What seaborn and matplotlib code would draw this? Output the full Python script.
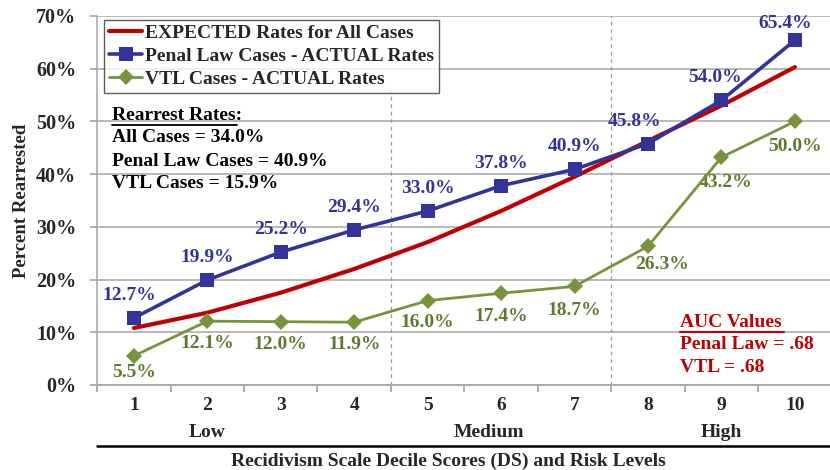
import matplotlib
matplotlib.use("Agg")
import matplotlib.pyplot as plt
import seaborn as sns
import pandas as pd
import numpy as np
from matplotlib.lines import Line2D
from matplotlib.ticker import FixedLocator, FixedFormatter

deciles = [1, 2, 3, 4, 5, 6, 7, 8, 9, 10]
expected = [10.8, 13.7, 17.5, 22.0, 27.1, 33.0, 39.5, 46.3, 53.0, 60.3]
penal = [12.7, 19.9, 25.2, 29.4, 33.0, 37.8, 40.9, 45.8, 54.0, 65.4]
vtl = [5.5, 12.1, 12.0, 11.9, 16.0, 17.4, 18.7, 26.3, 43.2, 50.0]
series_names = ["EXPECTED Rates for All Cases", "Penal Law Cases - ACTUAL Rates", "VTL Cases - ACTUAL Rates"]
yticks = [0, 10, 20, 30, 40, 50, 60, 70]
risk_levels = ["Low", "Medium", "High"]
risk_pos = [2, 5.84, 9]
rearrest_lines = ["Rearrest Rates:", "All Cases = 34.0%", "Penal Law Cases = 40.9%", "VTL Cases = 15.9%"]
auc_lines = ["AUC Values", "Penal Law = .68", "VTL = .68"]

RED = "#C00000"
BLUE = "#333399"
GREEN = "#77933C"
GREEN_TXT = "#5E7A2E"

sns.set_theme(style="white")
plt.rcParams['font.family'] = ['Liberation Serif', 'DejaVu Serif']
plt.rcParams['font.weight'] = 'bold'

df = pd.DataFrame({
    "x": deciles * 3,
    "y": expected + penal + vtl,
    "series": [series_names[0]] * 10 + [series_names[1]] * 10 + [series_names[2]] * 10,
})

fig = plt.figure(figsize=(8.3, 4.7), dpi=100)
ax = fig.add_axes([0.117, 0.181, 0.885, 0.785])

palette = {series_names[0]: RED, series_names[1]: BLUE, series_names[2]: GREEN}
markers = {series_names[0]: None, series_names[1]: "s", series_names[2]: "D"}
widths = {series_names[0]: 3.0, series_names[1]: 2.6, series_names[2]: 2.0}
msizes = {series_names[0]: 0, series_names[1]: 9.5, series_names[2]: 8.5}

for name in series_names:
    sub = df[df.series == name]
    sns.lineplot(data=sub, x="x", y="y", ax=ax, color=palette[name],
                 marker=markers[name], markersize=msizes[name],
                 linewidth=widths[name], label=name, zorder=5, markeredgewidth=0)

ax.set_xlim(0.5, 10.5)
ax.set_ylim(0, 70)
ax.set_yticks(yticks)
ax.set_yticklabels([f"{v}%" for v in yticks], fontsize=14.5, fontweight='bold')
ax.yaxis.grid(True, color="#A6A6A6", linewidth=1.1)
ax.xaxis.grid(False)
for s in ["top", "right"]:
    ax.spines[s].set_visible(False)
ax.spines["left"].set_color("#A6A6A6")
ax.spines["bottom"].set_color("#A6A6A6")
ax.spines["left"].set_linewidth(1.1)
ax.spines["bottom"].set_linewidth(1.3)

ax.xaxis.set_major_locator(FixedLocator(np.arange(0.5, 11, 1.0)))
ax.xaxis.set_major_formatter(FixedFormatter([""] * 11))
ax.xaxis.set_minor_locator(FixedLocator(deciles))
ax.xaxis.set_minor_formatter(FixedFormatter([str(d) for d in deciles]))
ax.tick_params(axis="x", which="major", length=5, color="#A6A6A6", direction="out", bottom=True)
ax.tick_params(axis="x", which="minor", length=0, labelsize=14, pad=9, bottom=True)
ax.tick_params(axis="y", length=5, color="#A6A6A6", direction="out", left=True, pad=10)
for t in ax.xaxis.get_minorticklabels():
    t.set_fontweight("bold")
ax.set_xlabel("")
ax.set_ylabel("Percent Rearrested", fontsize=13.5, fontweight="bold", labelpad=4)

# dashed dividers
ax.plot([4.5, 4.5], [0, 56.0], color="#999999", linestyle=(0, (3, 3)), linewidth=0.9, zorder=1)
ax.plot([7.5, 7.5], [0, 70], color="#999999", linestyle=(0, (3, 3)), linewidth=0.9, zorder=1)

# data labels (offsets in points)
blue_off = [(-3, 10), (0, 10), (0, 10), (0, 10), (0, 10), (0, 10), (0, 10), (-10, 10), (-5, 10), (-7, 6)]
for x, v, (dx, dy) in zip(deciles, penal, blue_off):
    ax.annotate(f"{v:.1f}%", (x, v), xytext=(dx, dy), textcoords="offset points",
                ha="center", va="bottom", color=BLUE, fontsize=14, fontweight="bold")
green_off = [(0, -6), (0, -10), (0, -10), (0, -10), (0, -10), (0, -11), (0, -11), (10, -7), (3, -12), (0, -12)]
for x, v, (dx, dy) in zip(deciles, vtl, green_off):
    ax.annotate(f"{v:.1f}%", (x, v), xytext=(dx, dy), textcoords="offset points",
                ha="center", va="top", color=GREEN_TXT, fontsize=14, fontweight="bold")

# legend
leg = ax.legend(loc="upper left", bbox_to_anchor=(0.01, 0.99), frameon=True, fancybox=False,
                edgecolor="#333333", prop={"size": 14, "weight": "bold"}, handlelength=1.7,
                handletextpad=0.15, borderpad=0.25, labelspacing=0.28, borderaxespad=0)
leg.get_frame().set_linewidth(1.0)
leg.set_zorder(10)

# rearrest text
for txt, yy in zip(rearrest_lines, [51.2, 47.0, 42.4, 38.3]):
    ax.text(0.70, yy, txt, fontsize=14, fontweight="bold", color="black", va="center", ha="left")
ax.plot([0.70, 2.41], [49.4, 49.4], color="black", linewidth=1.3)

for txt, yy in zip(auc_lines, [11.9, 7.7, 3.4]):
    ax.text(8.43, yy, txt, fontsize=14, fontweight="bold", color=RED, va="center", ha="left")
ax.plot([8.43, 9.85], [10.1, 10.1], color=RED, linewidth=1.5)

# risk levels
for lvl, p in zip(risk_levels, risk_pos):
    ax.text(p, -9.0, lvl, fontsize=14, fontweight="bold", ha="center", va="center", clip_on=False)

fig.add_artist(Line2D([97 / 830, 1.0], [1 - 446 / 470] * 2, color="black", linewidth=1.8))
fig.text(0.54, 1 - 461 / 470, "Recidivism Scale Decile Scores (DS) and Risk Levels", fontsize=14,
         fontweight="bold", ha="center", va="center")

fig.savefig("out.png", dpi=100)
